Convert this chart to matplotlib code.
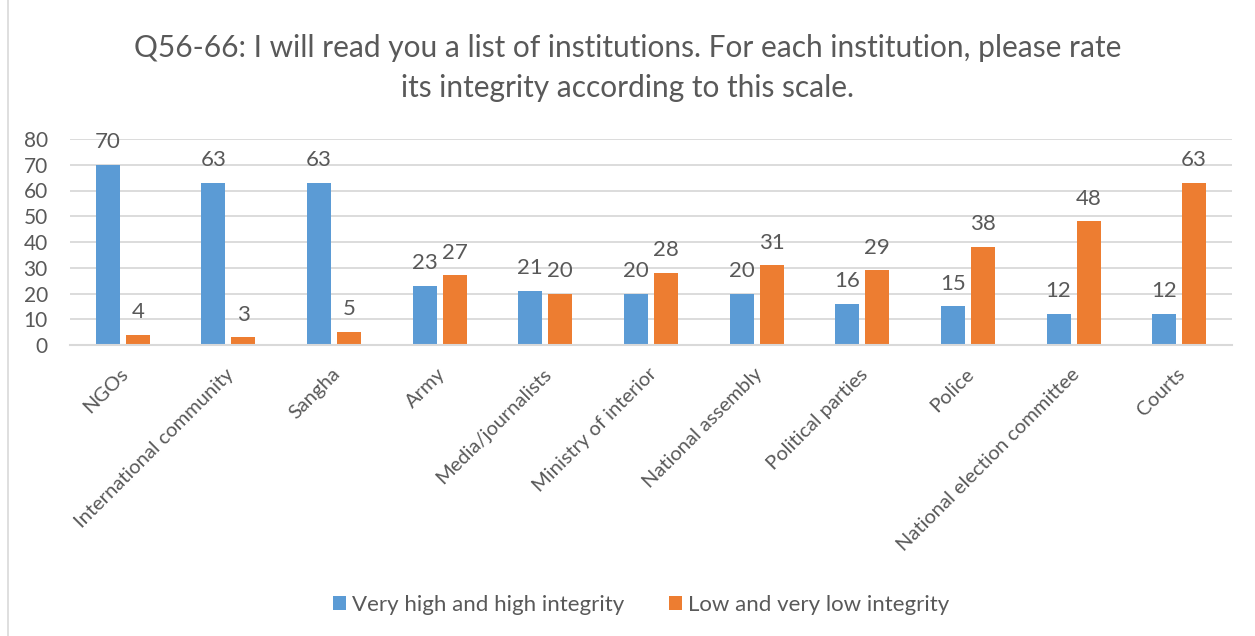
import matplotlib
matplotlib.use('Agg')
import matplotlib.pyplot as plt
import numpy as np
from matplotlib.lines import Line2D
from matplotlib.patches import Patch

# Chart data
categories = ['NGOs', 'International community', 'Sangha', 'Army', 'Media/journalists',
              'Ministry of interior', 'National assembly', 'Political parties', 'Police',
              'National election committee', 'Courts']
high_integrity = [70, 63, 63, 23, 21, 20, 20, 16, 15, 12, 12]
low_integrity = [4, 3, 5, 27, 20, 28, 31, 29, 38, 48, 63]
series_names = ['Very high and high integrity', 'Low and very low integrity']
yticks = [0, 10, 20, 30, 40, 50, 60, 70, 80]

blue = '#5B9BD5'
orange = '#ED7D31'
text_col = '#595959'
grid_col = '#D9D9D9'

plt.rcParams['font.family'] = ['Lato', 'DejaVu Sans']

fig = plt.figure(figsize=(12.55, 6.36), dpi=100)
ax = fig.add_axes([70 / 1255, 1 - 345 / 636, (1232 - 70) / 1255, (345 - 139) / 636])

x = np.arange(len(categories))
w = 0.227
off = 0.142
b1 = ax.bar(x - off, high_integrity, w, color=blue, zorder=3)
b2 = ax.bar(x + off, low_integrity, w, color=orange, zorder=3)

# data labels above each bar
for bars, vals in [(b1, high_integrity), (b2, low_integrity)]:
    for rect, v in zip(bars, vals):
        ax.annotate(str(v), (rect.get_x() + rect.get_width() / 2, v),
                    xytext=(0, 12), textcoords='offset points',
                    ha='center', va='baseline', fontsize=16, color=text_col)

ax.set_xlim(-0.5, len(categories) - 0.5)
ax.set_ylim(0, 80)
ax.set_yticks(yticks)
ax.tick_params(axis='y', length=0, pad=16, labelsize=15, labelcolor=text_col)
ax.yaxis.grid(True, color=grid_col, linewidth=1.3, zorder=0)
for s in ['top', 'right', 'left']:
    ax.spines[s].set_visible(False)
ax.spines['bottom'].set_color(grid_col)
ax.spines['bottom'].set_linewidth(1.5)
ax.spines['bottom'].set_zorder(4)

# rotated category labels
ax.set_xticks(x)
ax.set_xticklabels([])
ax.tick_params(axis='x', length=0)
for xi, lab in zip(x, categories):
    ax.annotate(lab, (xi, 0), xytext=(2, -19), textcoords='offset points',
                rotation=45, rotation_mode='anchor', ha='right', va='center',
                fontsize=14.5, color=text_col)

fig.text(0.5, 1 - 48 / 636, 'Q56-66: I will read you a list of institutions. For each institution, please rate',
         ha='center', va='center', fontsize=21.5, color=text_col)
fig.text(0.5, 1 - 88 / 636, 'its integrity according to this scale.',
         ha='center', va='center', fontsize=21.5, color=text_col)

handles = [Patch(facecolor=blue), Patch(facecolor=orange)]
fig.legend(handles, series_names, loc='center', bbox_to_anchor=(641 / 1255, 1 - 605 / 636),
           ncol=2, frameon=False, fontsize=16, labelcolor=text_col,
           handlelength=0.6, handleheight=0.6, handletextpad=0.25, columnspacing=2.0)

fig.add_artist(Line2D([8 / 1255, 8 / 1255], [0, 1], color=grid_col, linewidth=1.2))

fig.savefig('out.png', dpi=100)
